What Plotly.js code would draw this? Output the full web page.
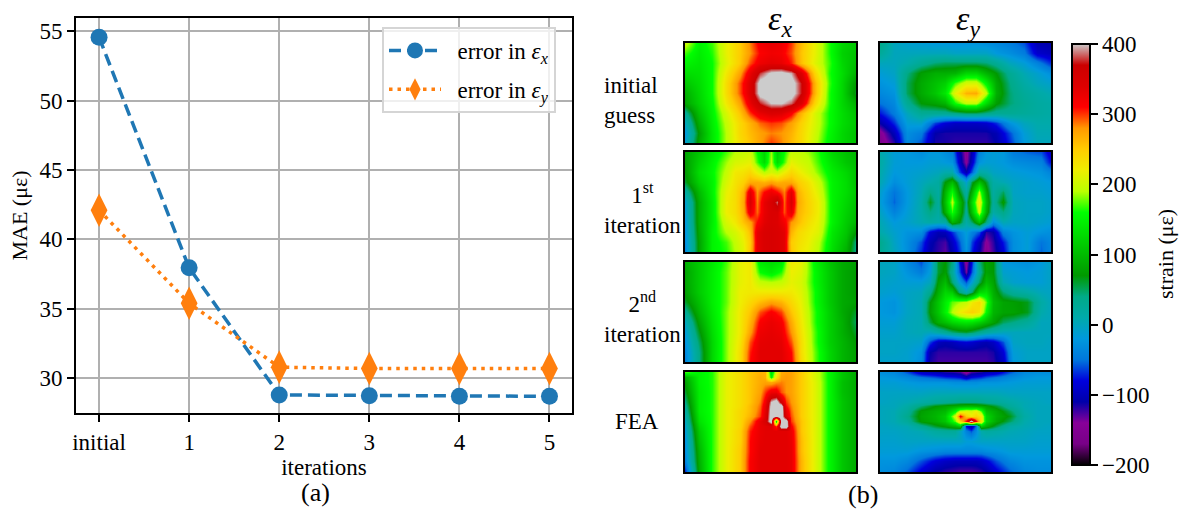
<!DOCTYPE html>
<html><head><meta charset="utf-8">
<script src="https://cdn.plot.ly/plotly-3.0.1.min.js"></script>
<style>html,body{margin:0;padding:0;background:#fff}#g{width:1185px;height:512px}</style>
</head><body><div id="g"></div>
<script>
const iterLabels = ['initial','1','2','3','4','5'];
const errX = [54.55,37.95,28.8,28.75,28.7,28.7];
const errY = [42.1,35.4,30.8,30.7,30.7,30.7];

const xBase = [0,.08,.16,.24,.32,.38,.44,.5,.56,.62,.68,.76,.84,.92,1];
const yBase = [0,.1,.2,.3,.4,.5,.6,.7,.8,.9,1];
const xFine = [0,.08,.16,.24,.29,.34,.38,.42,.46,.5,.54,.58,.62,.66,.72,.78,.86,.94,1];
const xFea = [0,.08,.16,.24,.32,.38,.44,.47,.5,.53,.56,.59,.62,.68,.76,.84,.92,1];
const yFea = [0,.05,.1,.2,.3,.35,.4,.45,.5,.55,.6,.7,.8,.9,1];

const exInitial = [
[200,150,170,215,250,285,320,330,325,300,260,215,165,125,110],
[170,145,165,215,250,280,312,322,318,295,255,215,165,120,105],
[150,140,160,210,252,295,325,335,330,305,258,210,170,125,100],
[130,135,160,225,275,330,378,405,410,395,345,240,165,130,90],
[110,130,160,235,295,345,412,420,420,415,372,262,170,125,70],
[90,125,160,235,295,345,412,420,420,415,372,262,165,125,60],
[80,120,155,225,275,330,375,400,402,385,345,240,165,125,90],
[30,105,150,205,255,300,330,345,340,315,265,205,160,130,105],
[0,90,145,195,240,265,290,300,295,275,245,205,160,130,110],
[-20,75,140,190,240,260,275,285,280,265,240,200,155,125,105],
[-10,85,140,190,235,255,275,300,285,260,240,195,150,125,105]];
const ex1st = [
[80,110,140,170,190,195,200,160,125,185,125,160,195,195,185,165,125,105,95],
[75,120,150,185,205,210,215,170,130,190,130,170,215,205,195,170,135,110,100],
[70,130,155,195,225,230,240,215,190,205,195,220,240,225,205,180,145,125,105],
[60,120,150,205,230,245,270,270,265,275,265,270,270,250,230,200,150,130,105],
[20,100,150,215,235,265,335,280,310,325,310,285,335,265,240,210,150,130,110],
[-10,90,145,220,235,270,345,285,330,350,385,290,345,270,245,220,150,125,105],
[-15,90,145,220,235,265,330,290,330,345,345,295,330,265,245,220,150,120,100],
[-20,90,145,205,225,255,275,310,335,345,340,320,280,260,235,215,150,115,95],
[-25,85,150,190,205,225,260,330,345,350,345,335,265,240,225,210,140,110,70],
[-30,80,150,170,195,215,250,330,345,350,345,335,250,235,220,195,135,100,40],
[-35,80,150,165,190,210,255,330,345,350,345,335,255,230,215,190,130,90,35]];
const ex2nd = [
[90,115,140,170,215,225,140,130,140,225,215,150,110,85,75],
[80,115,145,175,215,225,160,145,165,220,210,155,115,85,70],
[80,115,145,175,215,225,195,190,195,215,205,155,115,85,70],
[75,115,145,175,220,225,225,225,225,225,210,160,115,85,70],
[60,105,145,175,220,240,260,275,265,240,215,160,115,85,75],
[30,95,140,180,225,255,295,315,298,255,220,165,120,85,60],
[0,80,135,180,225,265,315,328,318,270,225,165,120,90,50],
[-15,65,130,180,225,275,325,332,325,280,230,170,120,90,60],
[-25,50,125,180,230,295,332,335,332,295,235,170,120,95,70],
[-35,40,125,180,235,305,335,335,335,310,235,175,125,95,75],
[-40,40,125,180,235,310,335,335,335,315,240,175,125,95,75]];
const exFea = [
[170,150,165,215,235,255,265,265,130,210,270,275,275,250,205,155,110,85],
[90,150,165,215,235,255,270,265,150,230,275,280,275,250,205,155,110,85],
[75,150,165,215,235,255,270,275,270,280,285,280,275,250,210,155,105,85],
[60,145,165,215,235,255,275,300,325,325,295,280,275,250,210,155,105,85],
[40,145,165,215,235,255,285,320,400,420,360,300,280,250,210,155,110,85],
[30,145,165,215,235,260,290,330,410,420,420,310,285,250,210,155,110,85],
[20,145,165,215,240,260,295,335,415,420,420,330,290,250,210,155,110,85],
[10,140,165,215,240,265,300,340,420,420,420,340,295,250,210,155,110,85],
[0,135,165,215,240,280,330,350,420,130,420,420,300,255,210,155,110,85],
[-10,125,165,215,240,295,330,335,340,300,420,420,315,255,210,155,110,85],
[-15,115,165,215,245,305,330,335,335,335,335,335,325,255,210,155,110,85],
[-25,105,165,215,245,310,332,335,335,335,335,335,328,260,210,155,110,85],
[-30,95,165,215,250,310,335,335,335,335,335,335,330,260,210,155,110,85],
[-40,90,165,215,250,315,335,335,335,335,335,335,330,265,210,155,110,85],
[-70,85,165,215,250,315,335,335,335,335,335,335,330,265,210,155,110,85]];

const eyInitial = [
[40,0,-10,-15,-20,-20,-25,-25,-25,-30,-35,-45,-60,-105,-110],
[25,0,0,0,0,0,-5,-5,-5,-5,-20,-30,-45,-90,-100],
[0,0,10,30,45,50,50,50,50,45,30,0,-15,-40,-70],
[-15,-5,40,75,90,90,95,125,125,95,70,30,5,-10,-30],
[-25,-15,50,85,105,120,170,205,205,150,85,40,15,0,-10],
[-35,-25,50,85,110,140,215,265,270,195,90,45,25,15,5],
[-50,-35,30,70,80,95,160,195,195,130,75,45,30,20,15],
[-75,-45,0,30,30,30,40,50,50,40,30,30,25,20,15],
[-110,-70,-15,-10,-65,-85,-95,-95,-95,-90,-70,-25,0,10,10],
[-150,-100,-30,-45,-110,-115,-115,-115,-115,-115,-105,-60,-15,5,5],
[-160,-120,-35,-60,-115,-115,-120,-120,-120,-120,-110,-70,-20,0,0]];
const ey1st = [
[10,-15,-20,-30,-20,-20,-30,-40,-100,-150,-100,-40,-20,-15,-20,-45,-55,-60,-95],
[15,-15,-20,-20,-15,-15,-20,-25,-90,-145,-90,-25,-15,-15,-20,-30,-35,-40,-80],
[10,-20,-15,-10,-5,0,10,10,-60,-105,-55,15,10,-5,-10,-15,-20,-25,-40],
[5,-30,-15,0,10,20,70,100,40,-10,60,105,60,15,5,-5,-10,-15,-20],
[-10,-50,-20,5,40,20,95,160,70,20,95,190,85,20,50,-5,-10,-10,-15],
[-15,-55,-20,10,65,25,105,195,105,40,130,225,100,25,75,0,-5,-5,-10],
[-5,-40,-15,10,40,20,90,165,100,30,110,200,90,15,40,0,-5,-5,-10],
[5,-20,-10,5,15,10,15,95,70,15,50,105,40,-30,5,-5,-5,-10,-15],
[10,-10,-25,-30,-85,-105,-100,-70,-40,-15,-40,-60,-120,-110,-40,-25,-15,-25,-30],
[35,-5,-30,-60,-105,-118,-125,-95,-60,-20,-65,-100,-145,-120,-75,-30,-15,-50,-35],
[30,0,-30,-70,-110,-120,-130,-105,-70,-25,-75,-110,-150,-125,-85,-30,-15,-55,-35]];
const ey2nd = [
[0,-5,-35,-60,-25,60,70,40,-70,-150,-70,40,80,70,-20,-25,-30,-20,-5],
[0,-5,-25,-45,-15,60,75,25,-55,-135,-55,25,80,70,-10,-15,-20,-15,-5],
[-5,-10,-15,-15,0,75,100,45,-15,-60,-10,50,100,80,5,-10,-15,-15,-5],
[-10,-15,-5,0,35,90,125,115,45,10,50,125,135,90,45,25,15,0,-5],
[-20,-25,-5,5,70,110,145,175,185,195,225,240,175,100,80,75,65,15,0],
[-20,-25,-5,5,75,110,150,190,220,235,245,230,155,95,80,78,65,10,0],
[-15,-15,0,5,55,90,105,125,135,140,135,120,100,80,50,40,25,0,0],
[-10,-10,0,5,0,15,30,45,55,60,50,35,20,10,0,0,0,0,0],
[-5,-5,-5,-10,-65,-100,-105,-100,-90,-85,-90,-100,-105,-95,-60,-5,0,0,-5],
[-5,-5,-10,-25,-110,-120,-120,-120,-120,-120,-120,-120,-120,-115,-85,-15,-5,-5,-5],
[-10,-10,-10,-30,-115,-125,-125,-125,-125,-125,-125,-125,-125,-120,-95,-20,-5,-5,-5]];
const eyFea = [
[-30,-35,-60,-95,-105,-115,-120,-125,-150,-125,-120,-115,-105,-95,-60,-35,-30,-30],
[-20,-25,-35,-50,-60,-70,-75,-80,-100,-80,-75,-70,-60,-50,-35,-25,-20,-20],
[-15,-15,-20,-25,-25,-25,-30,-30,-30,-30,-30,-25,-25,-25,-20,-15,-15,-15],
[-5,-5,-5,-5,0,0,0,0,0,0,0,0,0,0,-5,-5,-5,-5],
[-5,0,5,15,25,30,35,40,40,40,40,35,30,25,15,5,0,-5],
[0,0,15,45,70,80,90,95,100,100,95,90,80,60,25,5,0,0],
[0,5,25,75,90,100,150,200,210,205,220,170,105,85,50,10,0,0],
[0,5,35,80,95,115,205,320,250,225,240,225,125,90,65,15,0,0],
[0,5,25,75,90,110,175,240,310,420,310,230,125,85,50,10,0,0],
[-5,0,5,30,60,75,95,115,-80,-110,-50,115,90,55,15,5,0,-5],
[-5,-5,0,5,20,25,25,0,-40,-60,-30,10,20,15,5,0,-5,-5],
[-10,-10,-5,-5,-5,-5,-5,-5,-15,-15,-10,-5,-5,-5,-5,-5,-10,-10],
[-15,-15,-15,-25,-30,-35,-35,-35,-35,-35,-35,-35,-30,-25,-15,-15,-15,-15],
[-25,-25,-35,-60,-85,-95,-100,-100,-100,-100,-100,-95,-85,-60,-35,-25,-25,-25],
[-30,-35,-55,-85,-110,-118,-122,-125,-125,-125,-122,-118,-110,-85,-55,-35,-30,-30]];

const spectral = [[0,'#000000'],[.05,'#780087'],[.1,'#880099'],[.15,'#0000aa'],[.2,'#0000dd'],[.25,'#0077dd'],[.3,'#0099dd'],[.35,'#00aaaa'],[.4,'#00aa88'],[.45,'#009900'],[.5,'#00bb00'],[.55,'#00dd00'],[.6,'#00ff00'],[.65,'#bbff00'],[.7,'#eeee00'],[.75,'#ffcc00'],[.8,'#ff9900'],[.85,'#ff0000'],[.9,'#dd0000'],[.95,'#cc0000'],[1,'#cccccc']];

const FONT = 'Liberation Serif, Times New Roman, serif';
const W = 1185, H = 512;
const px = (a,b)=>[a/W,b/W];
const py = (t,b)=>[1-b/H,1-t/H];

const panelCols = [[685,856],[880,1051]];
const panelRows = [[43,143],[152,252],[262,362],[372,472]];
const panels = [
 [xBase,yBase,exInitial,0,0],[xFine,yBase,ex1st,0,1],[xBase,yBase,ex2nd,0,2],[xFea,yFea,exFea,0,3],
 [xBase,yBase,eyInitial,1,0],[xFine,yBase,ey1st,1,1],[xFine,yBase,ey2nd,1,2],[xFea,yFea,eyFea,1,3]
];

const data = [
 {x:iterLabels,y:errX,name:'&nbsp;&nbsp;error in <i>ε</i><sub><i>x</i></sub>',legendgroup:'a',type:'scatter',mode:'lines+markers',
  line:{color:'#1f77b4',width:3.5,dash:'12px,6px'},marker:{color:'#1f77b4',size:17,symbol:'circle'}},
 {x:iterLabels,y:errY,name:'&nbsp;&nbsp;error in <i>ε</i><sub><i>y</i></sub>',legendgroup:'b',type:'scatter',mode:'lines+markers',
  line:{color:'#ff7f0e',width:3.5,dash:'3.5px,5px'},marker:{color:'#ff7f0e',size:24,symbol:'diamond-tall'}}
];

const layout = {
 width:W,height:H,margin:{l:0,r:0,t:0,b:0,autoexpand:false},
 paper_bgcolor:'#fff',plot_bgcolor:'#fff',
 font:{family:FONT,size:23,color:'#000'},
 showlegend:true,
 legend:{x:382/W,y:1-27/H,xanchor:'left',yanchor:'top',bgcolor:'rgba(255,255,255,0.8)',bordercolor:'#d5d5d5',borderwidth:2,
  itemwidth:52,font:{size:23,family:FONT},tracegroupgap:6},
 xaxis:{domain:px(76,572),range:[-0.256,5.25],type:'category',categoryarray:iterLabels,showgrid:true,gridcolor:'#b0b0b0',gridwidth:2,
  showline:true,mirror:true,linecolor:'#000',linewidth:2,ticks:'outside',ticklen:7,tickwidth:2,tickcolor:'#000',
  title:{text:'iterations',standoff:1,font:{size:23}},tickfont:{size:23},zeroline:false,automargin:false},
 yaxis:{domain:py(18,413),range:[27.5,55.94],tickvals:[30,35,40,45,50,55],showgrid:true,gridcolor:'#b0b0b0',gridwidth:2,
  showline:true,mirror:true,linecolor:'#000',linewidth:2,ticks:'outside',ticklen:7,tickwidth:2,tickcolor:'#000',
  title:{text:'MAE (με)',standoff:6,font:{size:22}},tickfont:{size:23},zeroline:false,automargin:false},
 coloraxis:{colorscale:spectral,cmin:-200,cmax:400,colorbar:{
  x:1072/W,xanchor:'left',xpad:0,y:1-254.5/H,yanchor:'middle',ypad:0,lenmode:'pixels',len:421,thickness:18,thicknessmode:'pixels',
  outlinewidth:2,outlinecolor:'#000',ticks:'outside',ticklen:7,tickwidth:2,tickcolor:'#000',tickvals:[-200,-100,0,100,200,300,400],
  tickfont:{size:23,family:FONT}}},
 annotations:[]
};

panels.forEach((p,i)=>{
  const n = i+2;
  const col = panelCols[p[3]], row = panelRows[p[4]];
  data.push({type:'heatmap',x:p[0],y:p[1],z:p[2],zsmooth:'best',coloraxis:'coloraxis',xaxis:'x'+n,yaxis:'y'+n,showlegend:false,hoverinfo:'skip'});
  const ax = {showline:true,mirror:true,linecolor:'#000',linewidth:2,ticks:'',showticklabels:false,showgrid:false,zeroline:false};
  layout['xaxis'+n] = Object.assign({domain:px(col[0],col[1]),range:[0,1],anchor:'y'+n},ax);
  layout['yaxis'+n] = Object.assign({domain:py(row[0],row[1]),range:[p[4]===3?1.015:1,0],anchor:'x'+n},ax);
});

const notes = [
 ['(a)',299,492,26,'center',0],['(b)',863,494,26,'center',0],
 ['<i>ε</i><sub><i>x</i></sub>',780,21,34,'center',0],['<i>ε</i><sub><i>y</i></sub>',968,21,34,'center',0],
 ['initial<br>guess',602,100,23,'left',0],
 ['1<sup>st</sup><br>iteration',602,208,23,'center',0],
 ['2<sup>nd</sup><br>iteration',602,317,23,'center',0],
 ['FEA',613,421,23,'left',0],
 ['strain (με)',1165,254,22,'center',-90]
];
notes.forEach(a=>layout.annotations.push({text:a[0],xref:'paper',yref:'paper',x:a[1]/W,y:1-a[2]/H,
  xanchor:a[4]==='center'&&a[1]>620?'center':'left',yanchor:'middle',align:a[4],showarrow:false,textangle:a[5],font:{size:a[3],family:FONT,color:'#000'}}));

Plotly.newPlot('g',data,layout,{displayModeBar:false,responsive:false});
</script></body></html>
